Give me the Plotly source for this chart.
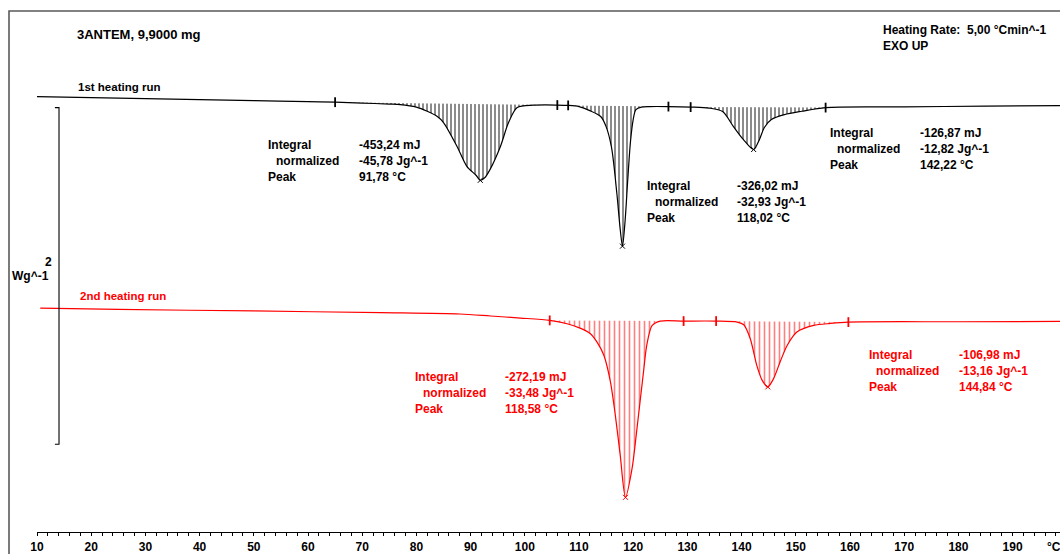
import numpy as np
import plotly.graph_objects as go

# ---- data -----------------------------------------------------------------
# 1st heating run: temperature (°C) and heat flow (W/g, exo up, offset)
t1 = [10, 20, 30, 40, 50, 60, 65, 70, 75, 77, 80, 82, 83.8, 85, 87.5, 89.3,
      91, 91.78, 92.6, 93.6, 95.5, 97.0, 98.6, 101.6, 106, 108, 110, 112,
      114, 115, 116, 117, 117.6, 118.02, 118.5, 119, 119.5, 120, 120.5,
      121.5, 123, 126.5, 130.6, 134, 136.5, 138.5, 140.3, 142.22, 143.3,
      144.2, 145.5, 147.9, 151.1, 155.5, 170, 185, 198.8]
hf1 = [0.000, -0.006, -0.012, -0.018, -0.024, -0.030, -0.033, -0.038, -0.044,
       -0.047, -0.062, -0.087, -0.117, -0.154, -0.296, -0.414, -0.467, -0.497,
       -0.482, -0.432, -0.296, -0.154, -0.065, -0.051, -0.050, -0.052, -0.059,
       -0.083, -0.118, -0.178, -0.302, -0.580, -0.787, -0.888, -0.740, -0.491,
       -0.266, -0.136, -0.077, -0.062, -0.059, -0.059, -0.062, -0.068, -0.089,
       -0.178, -0.254, -0.314, -0.254, -0.183, -0.136, -0.107, -0.087, -0.065,
       -0.061, -0.056, -0.053]

# 2nd heating run
t2 = [10.6, 25, 50, 73.4, 88, 93.7, 99.2, 104.6, 107.8, 110.2, 112.1, 113.3,
      114.6, 115.8, 116.7, 117.6, 118.58, 119.8, 120.7, 121.9, 122.5, 123.5,
      125.0, 129.3, 135.3, 139.2, 140.4, 141.6, 142.8, 143.8, 144.84, 145.9,
      147.1, 148.4, 150.2, 153.3, 156.4, 159.7, 180, 198.8]
hf2 = [-1.256, -1.264, -1.273, -1.283, -1.291, -1.303, -1.315, -1.329, -1.349,
       -1.375, -1.408, -1.457, -1.537, -1.694, -1.892, -2.128, -2.380, -2.207,
       -1.970, -1.635, -1.477, -1.359, -1.333, -1.333, -1.333, -1.339, -1.355,
       -1.438, -1.596, -1.685, -1.724, -1.675, -1.576, -1.478, -1.398, -1.359,
       -1.347, -1.339, -1.337, -1.335]

# integration limits (°C) and peak temperatures
limits1 = [(65, 106), (108, 126.5), (130.6, 155.5)]
limits2 = [(104.6, 129.3), (135.3, 159.7)]
peaks1 = [91.78, 118.02, 142.22]
peaks2 = [118.58, 144.84]

# evaluation results
labels = ["Integral", "normalized", "Peak"]
results1 = [["-453,24 mJ", "-45,78 Jg^-1", "91,78 °C"],
            ["-326,02 mJ", "-32,93 Jg^-1", "118,02 °C"],
            ["-126,87 mJ", "-12,82 Jg^-1", "142,22 °C"]]
results2 = [["-272,19 mJ", "-33,48 Jg^-1", "118,58 °C"],
            ["-106,98 mJ", "-13,16 Jg^-1", "144,84 °C"]]

x_ticks = list(range(10, 200, 10))
scale_bar = 2.0  # W/g

# ---- layout helpers ----------------------------------------------------------
W, H = 1060, 554
ML, MB = 37, 20
PX_PER_C = 5.42
PX_PER_WG = 169.0
Y0_PX = 97.0
X_RANGE = [10, 10 + (W - ML) / PX_PER_C]
Y_RANGE = [(Y0_PX - (H - MB)) / PX_PER_WG, Y0_PX / PX_PER_WG]
FONT = "Liberation Sans, Arial, sans-serif"
BLACK, RED = "#000000", "#ff0000"


def xp(px):
    return (px - ML) / (W - ML)


def yp(py):
    return (H - MB - py) / (H - MB)


fig = go.Figure()


def add_run(t, hf, limits, peaks, color, hatch, solidity):
    t = np.asarray(t, float)
    hf = np.asarray(hf, float)
    # hatched peak areas between curve and straight baseline
    for lo, hi in limits:
        m = (t >= lo) & (t <= hi)
        fig.add_trace(go.Scatter(
            x=t[m], y=hf[m], mode="lines", fill="toself",
            line=dict(width=0, shape="spline", smoothing=0.8),
            fillcolor="rgba(0,0,0,0)",
            fillpattern=dict(shape="|", fgcolor=color, bgcolor="rgba(0,0,0,0)",
                             size=hatch, solidity=solidity),
            hoverinfo="skip"))
    # curve
    fig.add_trace(go.Scatter(
        x=t, y=hf, mode="lines",
        line=dict(color=color, width=1.2, shape="spline", smoothing=0.8),
        hoverinfo="skip"))
    # integration limit marks
    lim_t = [v for pair in limits for v in pair]
    fig.add_trace(go.Scatter(
        x=lim_t, y=np.interp(lim_t, t, hf), mode="markers",
        marker=dict(symbol="line-ns", size=7, line=dict(color=color, width=1.8)),
        hoverinfo="skip"))
    # peak marks
    fig.add_trace(go.Scatter(
        x=peaks, y=np.interp(peaks, t, hf), mode="markers",
        marker=dict(symbol="x-thin", size=5, line=dict(color=color, width=1)),
        hoverinfo="skip"))


add_run(t1, hf1, limits1, peaks1, BLACK, 4, 0.45)
add_run(t2, hf2, limits2, peaks2, RED, 5, 0.32)

# scale bar (2 W/g)
sb_top = -0.065
fig.add_trace(go.Scatter(
    x=[13.3, 14.06, 14.06, 13.3],
    y=[sb_top, sb_top, sb_top - scale_bar, sb_top - scale_bar],
    mode="lines", line=dict(color=BLACK, width=1.1), hoverinfo="skip"))

annotations = []


def text(px, py, s, color=BLACK, size=12, anchor="left", weight="bold"):
    annotations.append(dict(
        x=xp(px), y=yp(py), xref="paper", yref="paper", text=s,
        showarrow=False, xanchor=anchor, yanchor="middle",
        font=dict(family=FONT, size=size, color=color, weight=weight)))


# result blocks: (label x, indent x, value x, first row y)
blocks1 = [(266, 274, 357, 145.5), (645, 653, 735, 186.5), (828, 835, 918, 133.5)]
blocks2 = [(413, 421, 503, 378.5), (867, 874, 957, 356.5)]
for (lx, nx, vx, y0), vals in zip(blocks1, results1):
    for i, (lab, val) in enumerate(zip(labels, vals)):
        text(nx if i == 1 else lx, y0 + 16.2 * i, lab)
        text(vx, y0 + 16.2 * i, val)
for (lx, nx, vx, y0), vals in zip(blocks2, results2):
    for i, (lab, val) in enumerate(zip(labels, vals)):
        text(nx if i == 1 else lx, y0 + 16.2 * i, lab, RED)
        text(vx, y0 + 16.2 * i, val, RED)

text(75, 35, "3ANTEM, 9,9000 mg", size=13)
text(881, 30, "Heating Rate:  5,00 °Cmin^-1")
text(881, 46.5, "EXO UP")
text(76, 87, "1st heating run", size=11.5)
text(78, 297.5, "2nd heating run", RED, size=11.5)
text(54, 263, "2", anchor="right")
text(51, 277, "Wg^-1", anchor="right")
text(1045, 549, "°C", size=12)

fig.update_layout(
    width=W, height=H, autosize=False,
    margin=dict(l=ML, r=0, t=0, b=MB, pad=0),
    paper_bgcolor="white", plot_bgcolor="white",
    showlegend=False, hovermode=False,
    annotations=annotations,
    shapes=[dict(type="rect", xref="paper", yref="paper",
                 x0=xp(9), x1=xp(1075), y0=yp(600), y1=yp(11),
                 line=dict(color="#5a5a5a", width=1.6), layer="below")],
    xaxis=dict(range=X_RANGE, showgrid=False, zeroline=False,
               showline=True, linecolor=BLACK, linewidth=1.4,
               ticks="outside", ticklen=3, tickwidth=1, tickcolor=BLACK,
               tickvals=x_ticks, ticktext=[str(v) for v in x_ticks],
               tickfont=dict(family=FONT, size=12, color=BLACK, weight="bold"),
               minor=dict(ticks="outside", dtick=2, tick0=10, ticklen=3,
                          tickwidth=1, tickcolor=BLACK, showgrid=False),
               fixedrange=True),
    yaxis=dict(range=Y_RANGE, visible=False, fixedrange=True),
)

fig.write_html("out.html")
